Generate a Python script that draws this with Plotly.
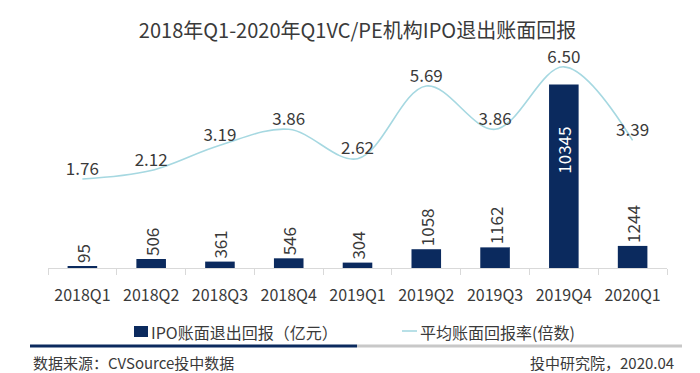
import plotly.graph_objects as go

categories = ["2018Q1", "2018Q2", "2018Q3", "2018Q4", "2019Q1", "2019Q2", "2019Q3", "2019Q4", "2020Q1"]
ipo_return = [95, 506, 361, 546, 304, 1058, 1162, 10345, 1244]
avg_multiple = [1.76, 2.12, 3.19, 3.86, 2.62, 5.69, 3.86, 6.50, 3.39]

title_text = "2018年Q1-2020年Q1VC/PE机构IPO退出账面回报"
bar_name = "IPO账面退出回报（亿元）"
line_name = "平均账面回报率(倍数)"
source_left = "数据来源：CVSource投中数据"
source_right = "投中研究院，2020.04"

FONT = "Noto Sans CJK SC"
NAVY = "#0b2a5e"
CYAN = "#a6d8e1"
TEXT = "#3a3a3a"

W, H = 700, 373
L, R, T, B = 48, 33, 55, 105

def px(x):
    return (x - L) / (W - L - R)

def py(y):
    return (H - B - y) / (H - T - B)

# label placement: the tallest bar gets its label inside
max_v = max(ipo_return)
bar_text = [("" if v == max_v else str(v)) for v in ipo_return]

fig = go.Figure()
fig.add_trace(go.Bar(
    x=categories, y=ipo_return, name=bar_name,
    marker=dict(color=NAVY, line=dict(width=0)),
    width=0.43,
    text=bar_text, textposition="outside", textangle=-90,
    textfont=dict(family=FONT, size=17, color=TEXT),
    constraintext="none", cliponaxis=False,
    showlegend=False, hoverinfo="x+y",
))
fig.add_trace(go.Scatter(
    x=categories, y=avg_multiple, name=line_name, yaxis="y2",
    mode="lines+text",
    line=dict(color=CYAN, width=1.6, shape="spline", smoothing=1.0),
    text=[f"{v:.2f}" for v in avg_multiple], textposition="top center",
    textfont=dict(family=FONT, size=17, color=TEXT),
    cliponaxis=False, showlegend=False,
))

# inside label of the tallest bar
for c, v in zip(categories, ipo_return):
    if v == max_v:
        fig.add_annotation(
            x=c, y=v, xref="x", yref="y", text=str(v), textangle=-90,
            showarrow=False, yanchor="top", yshift=-40,
            font=dict(family=FONT, size=17, color="white"),
        )

shapes = [
    # legend icons
    dict(type="rect", xref="paper", yref="paper", x0=px(134), x1=px(148), y0=py(337), y1=py(326),
         fillcolor=NAVY, line=dict(width=0)),
    dict(type="line", xref="paper", yref="paper", x0=px(402), x1=px(417), y0=py(331), y1=py(331),
         line=dict(color=CYAN, width=1.6)),
    # bottom rule
    dict(type="line", xref="paper", yref="paper", x0=px(30), x1=px(357), y0=py(346), y1=py(346),
         line=dict(color=NAVY, width=3)),
    dict(type="line", xref="paper", yref="paper", x0=px(357), x1=px(682), y0=py(346), y1=py(346),
         line=dict(color="#c8c8c8", width=3)),
]

annots = [
    dict(text=bar_name, x=px(149), y=py(332), xanchor="left", yanchor="middle", size=16),
    dict(text=line_name, x=px(418), y=py(332), xanchor="left", yanchor="middle", size=16),
    dict(text=source_left, x=px(31), y=py(362), xanchor="left", yanchor="middle", size=15),
    dict(text=source_right, x=px(676), y=py(362), xanchor="right", yanchor="middle", size=15),
]
for a in annots:
    size = a.pop("size")
    fig.add_annotation(xref="paper", yref="paper", showarrow=False,
                       font=dict(family=FONT, size=size, color=TEXT), **a)

fig.update_layout(
    width=W, height=H,
    margin=dict(l=L, r=R, t=T, b=B, pad=0),
    paper_bgcolor="white", plot_bgcolor="white",
    title=dict(text=title_text, x=0.5, xanchor="center", y=1 - 31 / H, yanchor="middle",
               xref="paper", font=dict(family=FONT, size=20, color=TEXT)),
    bargap=0.57,
    shapes=shapes,
    xaxis=dict(
        type="category", showgrid=False, zeroline=False,
        showline=True, linecolor="#d9d9d9", linewidth=1,
        ticks="outside", tickson="boundaries", ticklen=6, tickcolor="#d9d9d9",
        ticklabelstandoff=13,
        tickfont=dict(family=FONT, size=16, color=TEXT),
        range=[-0.5, len(categories) - 0.5],
    ),
    yaxis=dict(range=[0, 12000], visible=False, showgrid=False, zeroline=False),
    yaxis2=dict(range=[-2, 7], overlaying="y", side="right", visible=False,
                showgrid=False, zeroline=False),
)

fig.write_html("out.html", config={"displayModeBar": False},
               post_script="document.body.style.margin='0';document.body.style.overflow='hidden';")
